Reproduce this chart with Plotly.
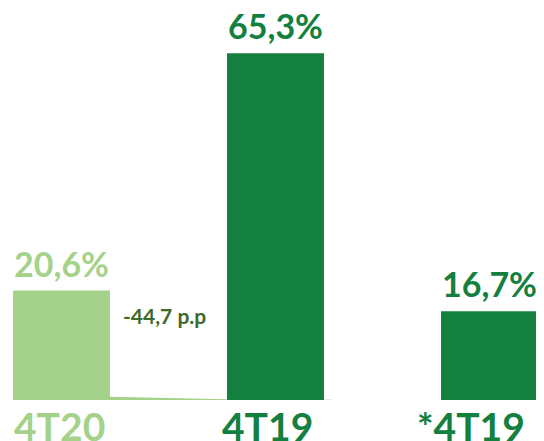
import plotly.graph_objects as go

categories = ["4T20", "4T19", "*4T19"]
values = [20.6, 65.3, 16.7]
bar_colors = ["#A4D28B", "#138040", "#138040"]
delta_label = "-44,7 p.p"

FONT = "Lato"

fig = go.Figure()
fig.add_trace(go.Bar(
    x=list(range(len(categories))),
    y=values,
    width=0.453,
    marker=dict(color=bar_colors, line=dict(width=0)),
    hoverinfo="skip",
))

annotations = []
label_shift = [-2, -8, -18]
for i, (cat, v, c) in enumerate(zip(categories, values, bar_colors)):
    annotations.append(dict(
        x=i, y=v, xref="x", yref="y", yanchor="bottom", yshift=5,
        text=f"<b>{v:.1f}%</b>".replace(".", ","), showarrow=False,
        font=dict(family=FONT, size=34, color=c),
    ))
    annotations.append(dict(
        x=i, y=0, xref="x", yref="y", yanchor="top", yshift=-1, xshift=label_shift[i],
        text=f"<b>{cat}</b>", showarrow=False,
        font=dict(family=FONT, size=39, color=c),
    ))

annotations.append(dict(
    x=0.48, y=16.0, xref="x", yref="y",
    text=f"<b>{delta_label}</b>", showarrow=False,
    font=dict(family=FONT, size=21, color="#3E6A2C"),
))

shapes = [
    dict(type="path", xref="x", yref="y",
         path="M 0.2265,0 L 0.2265,0.6 L 0.7735,0.15 L 0.7735,0 Z",
         fillcolor="#A4D28B", line=dict(width=0), layer="below"),
    dict(type="line", xref="x", yref="y", x0=1.2265, x1=1.26, y0=0.1, y1=0.1,
         line=dict(color="#E6E6E6", width=1)),
]

fig.update_layout(
    width=536, height=433,
    margin=dict(l=0, r=0, t=0, b=0),
    paper_bgcolor="white", plot_bgcolor="white",
    showlegend=False,
    xaxis=dict(range=[-0.25, 2.2547], visible=False, fixedrange=True),
    yaxis=dict(range=[-7.72, 73.82], visible=False, fixedrange=True),
    annotations=annotations,
    shapes=shapes,
)

fig.write_html("out.html")
